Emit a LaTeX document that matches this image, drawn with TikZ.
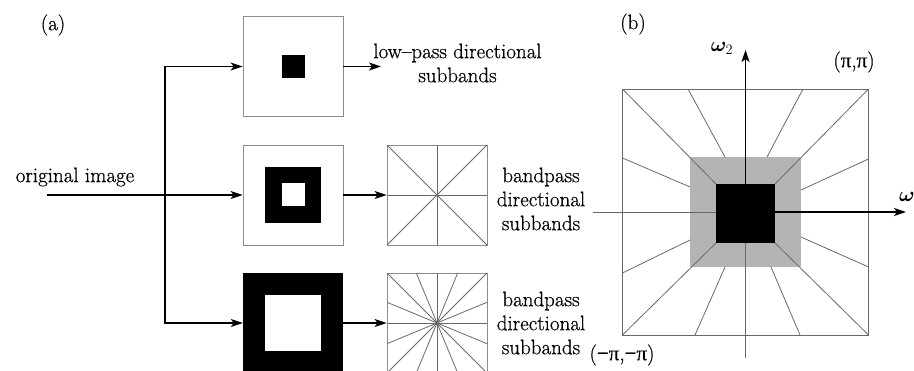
\documentclass[tikz,border=0pt]{standalone}
\usepackage{bm}
\usepackage{fontspec}
\newfontfamily\lblfont{Latin Modern Roman}[FakeBold=0.6,Ligatures=TeX]
\newfontfamily\pifont{Liberation Serif}[FakeBold=0.3]
\usetikzlibrary{arrows.meta,calc}
\definecolor{boxgray}{RGB}{140,140,140}
\definecolor{linegray}{RGB}{105,105,105}
\definecolor{fillgray}{RGB}{180,180,180}
\begin{document}
\begin{tikzpicture}[x=1pt,y=-1pt,
  lbl/.style={font=\fontsize{21}{24}\selectfont\lblfont, inner sep=0pt, align=center},
  framebox/.style={draw=boxgray, line width=0.8pt, minimum size=100pt, inner sep=0pt},
  solidsq/.style={fill=black, inner sep=0pt, draw=none},
  arr/.style={line width=1.5pt, -{Stealth[length=12pt,width=8pt,inset=3pt]}},
  thinln/.style={draw=linegray, line width=0.8pt},
  axthin/.style={draw=linegray, line width=0.9pt},
  axarr/.style={line width=1.6pt, -{Stealth[length=12pt,width=8pt,inset=3pt]}}]
\useasboundingbox (0,0) rectangle (914,371);

% ---------- (a) ----------
\node[lbl] (la) at (53,25) {(a)};
\node[lbl] (orig) at (75,177) {original image};

% boxes
\node[framebox] (b1) at (293,66.5) {};
\node[solidsq, minimum size=23pt] (b1c) at (b1.center) {};

\node[framebox] (b2) at (293,195) {};
\node[solidsq, minimum size=56pt] (b2o) at (b2.center) {};
\node[fill=white, inner sep=0pt, minimum size=23pt] (b2i) at (b2.center) {};

\node[solidsq, minimum size=100pt] (b3) at (293,323) {};
\node[fill=white, inner sep=0pt, minimum size=56pt] (b3i) at (b3.center) {};

% directional boxes
\node[framebox] (d2) at (437,195) {};
\foreach \dx/\dy in {50/0, 50/50, 0/50, -50/50}{
  \draw[thinln] ($(d2.center)+(\dx,\dy)$) -- ($(d2.center)-(\dx,\dy)$);
}
\node[framebox] (d3) at (437,323) {};
\foreach \dx/\dy in {50/0, 50/20.7, 50/50, 20.7/50, 0/50, -20.7/50, -50/50, -50/20.7}{
  \draw[thinln] ($(d3.center)+(\dx,\dy)$) -- ($(d3.center)-(\dx,\dy)$);
}

% connectors
\coordinate (in) at (47,195);
\coordinate (split) at (165,195);
\coordinate (o1) at (381,66.5);
\draw[arr] (in) -- (b2.west);
\draw[arr] (split) |- (b1.west);
\draw[arr] (split) |- (b3.west);
\draw[arr] (b1.east) -- (o1);
\draw[arr] (b2.east) -- (d2.west);
\draw[arr] (b3.east) -- (d3.west);

% labels
\node[lbl] (t1) at (457.5,63) {low–pass directional\\subbands};
\node[lbl] (t2) at (541,199) {bandpass\\directional\\subbands};
\node[lbl] (t3) at (541,323) {bandpass\\directional\\subbands};

% ---------- (b) ----------
\node[lbl] (lb) at (633,24) {(b)};
\coordinate (c) at (745.5,212);
\fill[fillgray] (690,157) rectangle (801,267);
\draw[thinln] (622.5,89) rectangle (868.5,335);
% corner diagonals
\draw[thinln] (622.5,89) -- (716,184);
\draw[thinln] (868.5,89) -- (775,184);
\draw[thinln] (622.5,335) -- (716,243);
\draw[thinln] (868.5,335) -- (775,243);
% other fan lines
\draw[thinln] (688,89) -- (725,157);
\draw[thinln] (803,89) -- (767,157);
\draw[thinln] (695,335) -- (725,267);
\draw[thinln] (800,335) -- (771,267);
\draw[thinln] (622.5,158) -- (690,187);
\draw[thinln] (622.5,273) -- (690,240);
\draw[thinln] (868.5,159) -- (801,190);
\draw[thinln] (868.5,267) -- (801,237);
% thin axes parts
\coordinate (vbot) at (745.5,358);
\coordinate (hleft) at (593,212);
\draw[axthin] (vbot) -- (c);
\draw[axthin] (hleft) -- (c);
% black square
\fill[black] (716,184) rectangle (775,243);
% thick axes
\coordinate (vtop) at (745.5,50);
\coordinate (hright) at (906,212);
\draw[axarr] (c) -- (vtop);
\draw[axarr] (c) -- (hright);

\node[lbl] (w2) at (722,48) {$\bm{\omega}_{2}$};
\node[lbl, anchor=west] (w1) at (899,197) {$\bm{\omega}$};
\node[lbl] (pp) at (854,62) {({\pifont π},{\pifont π})};
\node[lbl] (mm) at (622,355) {({\pifont −π},{\pifont −π})};
\end{tikzpicture}
\end{document}
